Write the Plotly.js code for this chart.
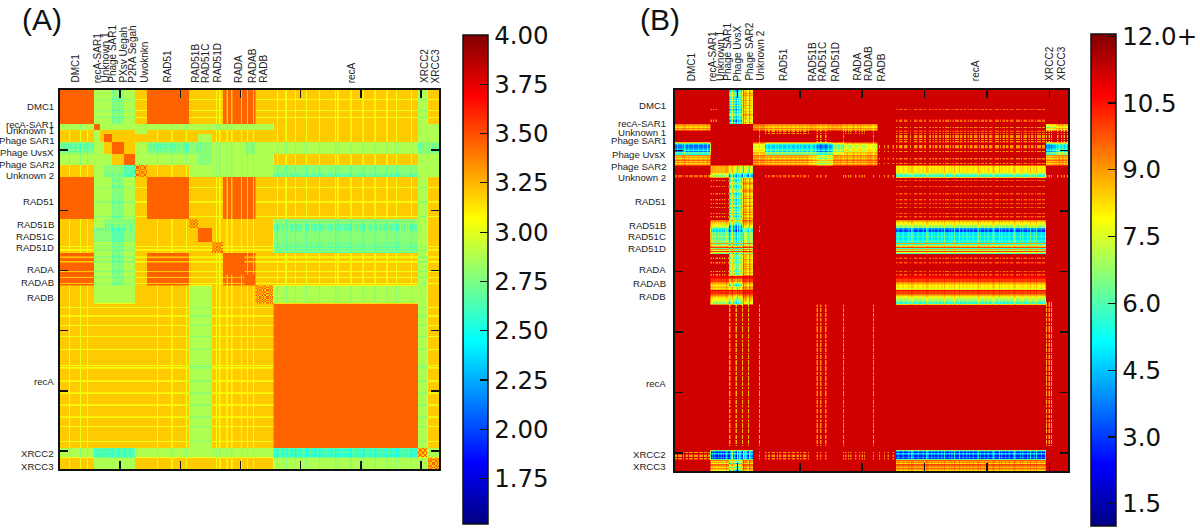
<!DOCTYPE html>
<html><head><meta charset="utf-8">
<script src="https://cdn.plot.ly/plotly-3.0.1.min.js"></script>
<style>html,body{margin:0;padding:0;background:#fff}#c{width:1200px;height:528px}</style>
</head><body><div id="c"></div>
<script>
// Gene families in matrix order, and how many sequences each holds
const families = ["DMC1","recA-SAR1","Unknown 1","Phage SAR1","Phage UvsX","Phage SAR2","Unknown 2","RAD51","RAD51B","RAD51C","RAD51D","RADA","RADAB","RADB","recA","XRCC2","XRCC3"];
const familySizes = [28,5,3,7,10,9,10,35,7,12,9,18,9,15,120,8,10];

// Panel A: label text and where each label sits, in sequence units
const topLabelsA = ["DMC1","recA-SAR1","Unknown 1","Phage SAR1","PXsv Uegah","P2RA Segah","Uwoknkn","RAD51","RAD51B","RAD51C","RAD51D","RADA","RADAB","RADB","recA","XRCC2","XRCC3"];
const topPosA = [12.5,31,37,43,52,60,70,89,112.5,121,130.5,148,160,168.5,242.5,302.5,312];
const leftPosA = [14,28.5,34,42,52,62,71,93,112,122,131,149,160,172.5,242,302.5,313];
// Panel A: levels of the blocks
const O=3.45, a=3.2, g=2.87, t=2.66, c=2.55;
const blocksA = [
 [O,g,g,g,t,g,a,O,a,a,a,O,O,a,a,g,a],
 [g,O,g,g,g,g,g,g,g,g,g,g,g,g,a,g,g],
 [a,g,a,a,a,a,g,a,a,a,a,a,a,a,a,g,g],
 [a,g,a,O,a,a,a,a,a,g,a,a,a,a,a,g,g],
 [t,g,g,a,O,a,g,t,t,t,g,g,t,g,g,t,t],
 [g,g,g,g,a,O,g,g,g,t,g,g,g,g,a,g,g],
 [a,g,g,t,t,c,O,a,g,g,g,g,g,g,t,g,g],
 [O,g,g,g,t,g,a,O,a,a,a,O,O,a,a,g,a],
 [a,g,g,t,t,t,a,a,O,a,a,a,a,a,t,g,a],
 [a,t,t,t,c,t,a,a,a,O,a,a,a,a,t,g,a],
 [a,g,g,g,t,g,a,a,a,a,O,a,a,a,t,g,a],
 [O,g,g,g,t,g,a,O,a,a,a,O,O,a,a,g,a],
 [O,g,g,g,t,g,a,O,a,a,a,O,O,a,a,g,a],
 [a,g,g,g,g,g,a,a,g,g,a,a,a,O,g,g,a],
 [a,a,a,a,a,a,a,a,g,g,a,a,a,a,O,g,a],
 [g,c,c,c,c,c,g,g,g,g,g,g,g,g,c,O,g],
 [a,g,g,g,g,g,a,a,a,a,a,a,a,a,g,g,O]
];
// Panel A: sequences that read lower than the rest of their family (1 weak, 2 also in the orange blocks)
const streaksA = [
 "0000000100"+"0000001000"+"00100000",
 "00000","000","0000000","0000000000","000000000","0000000000",
 "0000000010"+"0000000000"+"1000000000"+"00100",
 "0000000","000000000000","000100100",
 "000200020000000200","002000020","000000000000000",
 "0001000000"+"1000000010"+"0000000100"+"0000000010"+"0000000000"+"0101000000"+
 "0000100000"+"0000100000"+"0000100000"+"0000100000"+"0010000000"+"0000100000",
 "00000000","0000000000"
];
// Panel A: sub-clades inside the speckled diagonal blocks
const cladesA = ["","","","","","","0110100110","","0101101","","010110100","","","010110100110101","","01100110","0100110010"];

// Panel B: labels
const topLabelsB = ["DMC1","recA-SAR1","Unknown 1","Phage SAR1","Phage UvsX","Phage SAR2","Unknown 2","RAD51","RAD51B","RAD51C","RAD51D","RADA","RADAB","RADB","recA","XRCC2","XRCC3"];
const topPosB = [13.5,30,36,41.5,50,59,68,87,110.5,118.5,129,145.5,155,165.5,241,299.5,309];
const leftPosB = [13,28,35.5,42,53,63,72,92.5,112,121.5,131,148,160,171,243,301.5,311.5];
// Panel B: deepest value in each block; 11.2 is the plain red background
const R=11.2;
const blocksB = [
 [R,9,R,R,3,7,R,R,R,R,R,R,R,R,9.5,R,R],
 [8.2,R,R,R,R,R,8.2,8.2,8,8,8,8,7.5,R,9,6.5,7.5],
 [R,R,R,R,R,R,9,9,9,9,9,9,9,R,9.5,9,9],
 [R,R,R,R,R,R,9,R,8.6,8.6,9,R,9,R,9,8.6,8.6],
 [3.5,R,R,R,R,R,6.5,4.5,3.5,3,5.5,7,7,9,9,3.5,4.5],
 [8.2,R,R,R,R,R,8,8.2,7,6,8,8.2,8.2,9,9,8,8.2],
 [9.5,6.5,6.5,6.5,3.5,3,R,9.5,9,9,9,9,9,9,5.5,9,9],
 [R,9,9,9,4,7.5,R,R,R,R,R,R,R,R,9.5,R,R],
 [R,7,7,7,3,7,9.5,R,R,R,R,R,R,R,6.5,R,R],
 [R,4.5,4.5,4.5,2.5,4.5,9,R,R,R,R,R,R,R,3,R,R],
 [R,6,6,6,4,6,R,R,R,R,R,R,R,R,5.5,R,R],
 [R,8.7,8.7,8.7,5,7.5,R,R,R,R,R,R,R,R,9.5,R,R],
 [R,7.5,7.5,7.5,3.5,7,R,R,R,R,R,R,R,R,7.5,R,R],
 [R,6.5,6.5,6.5,4.5,7,R,R,R,R,R,R,R,R,5.5,9,R],
 [R,R,R,R,8.7,8.7,8.7,R,9,9,9,R,9,R,R,8.7,R],
 [9,2.5,2.5,2.5,2.5,2.5,9,9,9,9,9,9,9,9,2.7,R,R],
 [R,7.5,7.5,7.5,4,7.5,R,R,R,R,R,R,R,R,8.2,R,R]
];
// Panel B: how far each row sequence reaches its block value (0-9, 9 = fully)
const rowDepthB = [
 "8767687868"+"7868798786"+"68879978",
 "68968","979","8997989","6899987967","687958697","5555557899",
 "7898678987"+"6679878698"+"7986987869"+"68968",
 "4567899","899777677767","497294729",
 "788978897878789789","112335678","565122345677899",
 "9989998999"+"8999799899"+"9998999989"+"9799989998"+"9899979999"+"8999989979"+
 "9998999799"+"8999998989"+"9979989999"+"8999799899"+"9989997899"+"9899989878",
 "58979989","5769468579"
];
// Panel B: the same for each column sequence
const colDepthB = [
 "9899989799"+"8999899989"+"99899799",
 "98989","989","8989789","9658795868","947689578","7777797777",
 "9899899989"+"8998999899"+"8999899898"+"99989",
 "8778879","889888987887","878788789",
 "897989878988979898","878789878","898789879878987",
 "9899989998"+"8978999899"+"9899789989"+"8998998979"+"9989897999"+"7998998989"+
 "9899979899"+"8998999789"+"9979899899"+"8999789998"+"9899989799"+"8979998997",
 "98989888","8978979889"
];

// Axis ticks and colour bars
const nSeq = 315;
const tickStep = 50;
const cbValsA = [4,3.75,3.5,3.25,3,2.75,2.5,2.25,2,1.75];
const cbTextA = ["4.00","3.75","3.50","3.25","3.00","2.75","2.50","2.25","2.00","1.75"];
const cbValsB = [12,10.5,9,7.5,6,4.5,3,1.5];
const cbTextB = ["12.0+","10.5","9.0","7.5","6.0","4.5","3.0","1.5"];
const jet = [[0,"#000080"],[0.125,"#0000ff"],[0.375,"#00ffff"],[0.625,"#ffff00"],[0.875,"#ff0000"],[1,"#800000"]];

// Expand the family tables to one entry per sequence
const famOf=[], strA=[], cladeA=[], rowD=[], colD=[];
families.forEach((f,k)=>{
  for(let s=0;s<familySizes[k];s++){
    famOf.push(k);
    strA.push(+(streaksA[k][s]||0));
    cladeA.push(cladesA[k]?+(cladesA[k][s]||0):null);
    rowD.push(+(rowDepthB[k][s]||8));
    colD.push(+(colDepthB[k][s]||8));
  }
});
const idx = famOf.map((_,i)=>i+0.5);
function valA(i,j){
  const fi=famOf[i], fj=famOf[j]; let b=blocksA[fi][fj];
  if(fi===fj){
    if(cladeA[i]!==null && cladeA[i]!==cladeA[j]) return a;
    return b;
  }
  // turquoise blocks are a mottle of lime and turquoise
  if(b<=t && !(rowD[i]>=8 && colD[j]>=9)) b = (b===c)? t : 2.78;
  const s=Math.max(strA[i],strA[j]);
  if(s===0) return b;
  if(b>3.3) return s===2?a:b;
  if(b>3) return 3.03;
  return b-0.1;
}
function valB(i,j){
  const b=blocksB[famOf[i]][famOf[j]];
  if(b>=R) return R;
  if(b>=8.5) return (rowD[i]===9&&colD[j]===9)?b:R;
  return R-(R-b)*(rowD[i]/9)*(colD[j]/9);
}
const zA=idx.map((_,i)=>idx.map((_,j)=>valA(i,j)));
const zB=idx.map((_,i)=>idx.map((_,j)=>valB(i,j)));

const W=1200,H=528;
const labelFont={family:"Liberation Sans, Arial, sans-serif",size:10,color:"#222"};
const ann=[];
function addLabels(tops,tpos,lpos,xr,yr,yPaper,xPaper){
  tops.forEach((t,k)=>ann.push({text:t,xref:xr,x:tpos[k],yref:"paper",y:yPaper,yanchor:"bottom",xanchor:"center",textangle:-90,showarrow:false,font:labelFont}));
  families.forEach((t,k)=>ann.push({text:t,xref:"paper",x:xPaper,yref:yr,y:lpos[k],xanchor:"right",yanchor:"middle",showarrow:false,font:{...labelFont,size:9.6}}));
}
addLabels(topLabelsA,topPosA,leftPosA,"x","y",1-85/H,56/W);
addLabels(topLabelsB,topPosB,leftPosB,"x2","y2",1-83/H,668/W);
[["(A)",20],["(B)",638]].forEach(p=>ann.push({text:p[0],xref:"paper",yref:"paper",x:p[1]/W,y:1-19/H,xanchor:"left",yanchor:"middle",showarrow:false,font:{family:"Liberation Sans, Arial, sans-serif",size:30,color:"#111"}}));

function axis(dom,range,anchor){
  return {domain:dom,range:range,anchor:anchor,tick0:0,dtick:tickStep,ticks:"inside",ticklen:8,tickwidth:1.5,tickcolor:"#111",
    showticklabels:false,showgrid:false,zeroline:false,showline:true,mirror:"ticks",linecolor:"#111",linewidth:2};
}
function cb(x,y,len,vals,text){
  return {x:x/W,xanchor:"left",xpad:0,y:1-y/H,yanchor:"top",ypad:0,thickness:25,thicknessmode:"pixels",len:len,lenmode:"pixels",
    tickmode:"array",tickvals:vals,ticktext:text,ticks:"inside",ticklen:8,tickwidth:1.2,tickcolor:"#111",outlinewidth:1.5,outlinecolor:"#111",
    tickfont:{family:"DejaVu Sans",size:24.5,color:"#111"}};
}
const traces=[
 {type:"heatmap",x:idx,y:idx,z:zA,xaxis:"x",yaxis:"y",colorscale:jet,zmin:1.52,zmax:4,zsmooth:"best",colorbar:cb(463,35,489,cbValsA,cbTextA),hoverinfo:"skip"},
 {type:"heatmap",x:idx,y:idx,z:zB,xaxis:"x2",yaxis:"y2",colorscale:jet,zmin:1,zmax:12.05,zsmooth:"best",colorbar:cb(1091,34,492,cbValsB,cbTextB),hoverinfo:"skip"}
];
const layout={width:W,height:H,margin:{l:0,r:0,t:0,b:0,autoexpand:false},paper_bgcolor:"#fff",plot_bgcolor:"#fff",showlegend:false,annotations:ann,
 xaxis:axis([60/W,439/W],[0,nSeq],"y"),
 yaxis:axis([1-469/H,1-90/H],[nSeq,0],"x"),
 xaxis2:axis([675/W,1068/W],[0,nSeq],"y2"),
 yaxis2:axis([1-471/H,1-90/H],[nSeq,0],"x2")
};
Plotly.newPlot("c",traces,layout,{displayModeBar:false,staticPlot:true});
</script></body></html>
